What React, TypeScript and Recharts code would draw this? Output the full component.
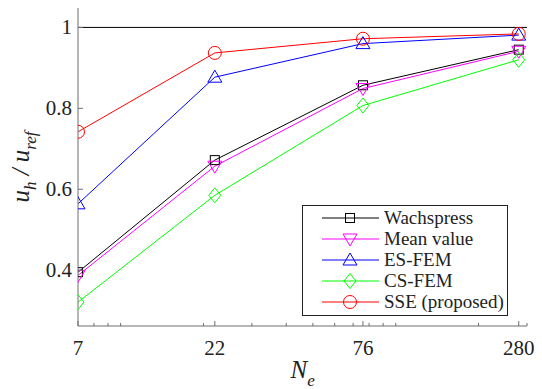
import { LineChart, Line, XAxis, YAxis, ReferenceLine } from "recharts";

const nElements = [7, 22, 76, 280];
const wachspress = [0.395, 0.672, 0.857, 0.945];
const meanValue = [0.387, 0.657, 0.849, 0.941];
const esFem = [0.564, 0.877, 0.96, 0.981];
const csFem = [0.321, 0.585, 0.807, 0.92];
const sse = [0.742, 0.937, 0.972, 0.984];

const majorTicksX = [7, 22, 76, 280];
const minorTicksX = [8, 9, 10, 20, 30, 40, 50, 60, 70, 80, 90, 100, 200, 300];
const ticksY = [0.4, 0.6, 0.8, 1];

const series = [
  { key: "wachspress", name: "Wachspress", color: "#000000", marker: "square", values: wachspress },
  { key: "meanValue", name: "Mean value", color: "#ff00ff", marker: "down", values: meanValue },
  { key: "esFem", name: "ES-FEM", color: "#0000ff", marker: "up", values: esFem },
  { key: "csFem", name: "CS-FEM", color: "#00ff00", marker: "diamond", values: csFem },
  { key: "sse", name: "SSE (proposed)", color: "#ff0000", marker: "circle", values: sse },
];

const data = nElements.map((n, i) => {
  const row: Record<string, number> = { n };
  series.forEach((s) => (row[s.key] = s.values[i]));
  return row;
});

const allTicksX = [...majorTicksX, ...minorTicksX].sort((a, b) => a - b);

const FONT = "'Liberation Serif', 'Times New Roman', serif";
const AXIS = "#6e6e6e";

const Marker = ({ cx, cy, type, color }: { cx: number; cy: number; type: string; color: string }) => {
  const p = { fill: "none", stroke: color, strokeWidth: 1 };
  if (type === "square") return <rect x={cx - 4.5} y={cy - 4.5} width={9} height={9} {...p} />;
  if (type === "circle") return <circle cx={cx} cy={cy} r={6.5} {...p} />;
  if (type === "up")
    return <polygon points={`${cx},${cy - 7} ${cx - 7},${cy + 5} ${cx + 7},${cy + 5}`} {...p} />;
  if (type === "down")
    return <polygon points={`${cx},${cy + 7} ${cx - 7},${cy - 5} ${cx + 7},${cy - 5}`} {...p} />;
  return <polygon points={`${cx},${cy - 7.5} ${cx + 6},${cy} ${cx},${cy + 7.5} ${cx - 6},${cy}`} {...p} />;
};

const XTick = (props: any) => {
  const { x, y, payload, side } = props;
  const major = majorTicksX.includes(payload.value);
  const len = major ? 5 : 3;
  const dir = side === "bottom" ? -1 : 1;
  return (
    <g>
      <line x1={x} x2={x} y1={y} y2={y + dir * len} stroke={AXIS} />
      {side === "bottom" && major && (
        <text x={x} y={y + 29} textAnchor="middle" fontFamily={FONT} fontSize={21} fill="#222">
          {payload.value}
        </text>
      )}
    </g>
  );
};

const YTick = (props: any) => {
  const { x, y, payload, side } = props;
  const dir = side === "left" ? 1 : -1;
  return (
    <g>
      <line x1={x} x2={x + dir * 5} y1={y} y2={y} stroke={AXIS} />
      {side === "left" && (
        <text x={x - 6} y={y + 7} textAnchor="end" fontFamily={FONT} fontSize={21} fill="#222">
          {payload.value}
        </text>
      )}
    </g>
  );
};

const LegendBox = () => (
  <svg width={207} height={112} style={{ position: "absolute", left: 302, top: 205 }}>
    <rect x={0.5} y={0.5} width={205} height={110} fill="#fff" stroke="#222" />
    {series.map((s, i) => {
      const cy = 13 + i * 21;
      return (
        <g key={s.key}>
          <line x1={20} x2={77} y1={cy} y2={cy} stroke={s.color} />
          <Marker cx={48} cy={cy} type={s.marker} color={s.color} />
          <text x={82} y={cy + 6} fontFamily={FONT} fontSize={19} fill="#222">
            {s.name}
          </text>
        </g>
      );
    })}
  </svg>
);

export default function App() {
  return (
    <div style={{ position: "absolute", left: 0, top: 0, width: 542, height: 389, background: "#fff" }}>
      <LineChart width={542} height={389} data={data} margin={{ top: 8, right: 15, bottom: 0, left: 0 }}>
        <XAxis
          dataKey="n"
          type="number"
          scale="log"
          domain={[7, 300]}
          allowDataOverflow
          ticks={allTicksX}
          interval={0}
          height={63}
          tickSize={0}
          tickMargin={0}
          stroke={AXIS}
          tick={<XTick side="bottom" />}
          label={{
            content: (p: any) => {
              const vb = p.viewBox;
              const cx = vb.x + vb.width / 2;
              return (
                <text x={cx - 12} y={vb.y + 52} fontFamily={FONT} fontStyle="italic" fontSize={25} fill="#222">
                  N
                  <tspan fontSize={17} dy={8}>e</tspan>
                </text>
              );
            },
          }}
        />
        <XAxis
          xAxisId="top"
          dataKey="n"
          type="number"
          scale="log"
          orientation="top"
          domain={[7, 300]}
          allowDataOverflow
          ticks={allTicksX}
          interval={0}
          height={0}
          tickSize={0}
          tickMargin={0}
          stroke={AXIS}
          tick={<XTick side="top" />}
        />
        <YAxis
          type="number"
          domain={[0.262, 1.048]}
          allowDataOverflow
          ticks={ticksY}
          interval={0}
          width={78}
          tickSize={0}
          tickMargin={0}
          stroke={AXIS}
          tick={<YTick side="left" />}
          label={{
            content: (p: any) => {
              const vb = p.viewBox;
              const cy = vb.y + vb.height / 2;
              const cx = 29;
              return (
                <text
                  x={cx}
                  y={cy}
                  transform={`rotate(-90, ${cx}, ${cy})`}
                  textAnchor="middle"
                  fontFamily={FONT}
                  fontStyle="italic"
                  fontSize={25}
                  fill="#222"
                >
                  u<tspan fontSize={17} dy={7}>h</tspan>
                  <tspan dy={-7}> / u</tspan>
                  <tspan fontSize={17} dy={7}>ref</tspan>
                </text>
              );
            },
          }}
        />
        <YAxis
          yAxisId="right"
          orientation="right"
          type="number"
          domain={[0.262, 1.048]}
          allowDataOverflow
          ticks={ticksY}
          interval={0}
          width={0}
          tickSize={0}
          tickMargin={0}
          stroke={AXIS}
          tick={<YTick side="right" />}
        />
        <ReferenceLine y={1} stroke="#000" strokeWidth={1} />
        {series.map((s) => (
          <Line
            key={s.key}
            dataKey={s.key}
            name={s.name}
            stroke={s.color}
            strokeWidth={1}
            isAnimationActive={false}
            dot={(p: any) => <Marker key={`${s.key}-${p.index}`} cx={p.cx} cy={p.cy} type={s.marker} color={s.color} />}
            activeDot={false}
          />
        ))}
      </LineChart>
      <LegendBox />
    </div>
  );
}
